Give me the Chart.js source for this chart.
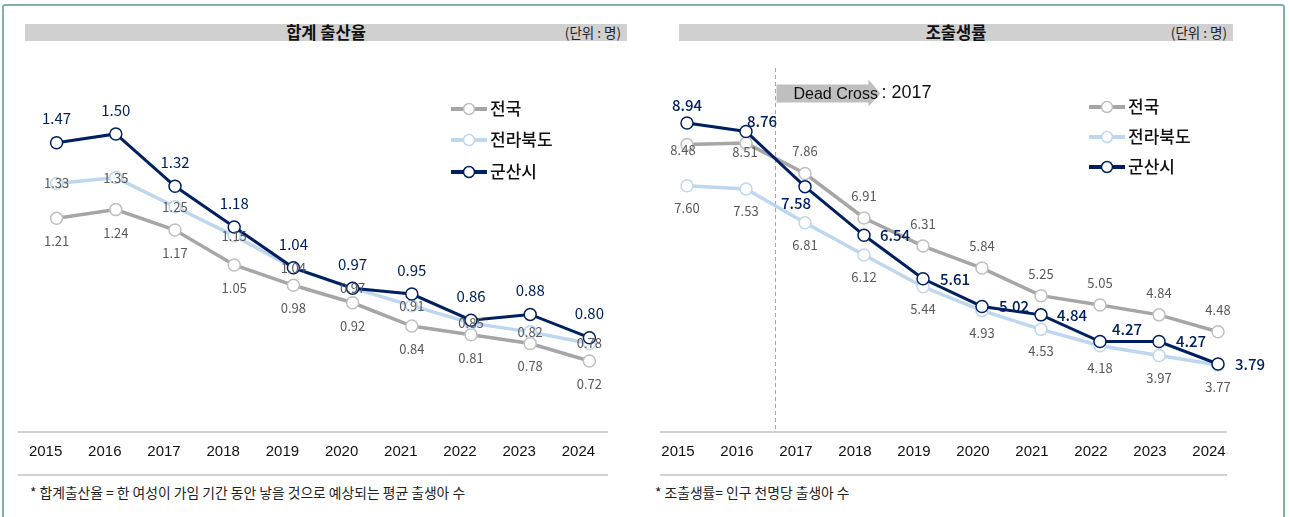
<!DOCTYPE html>
<html>
<head>
<meta charset="utf-8">
<script src="https://cdn.jsdelivr.net/npm/chart.js@4.4.1/dist/chart.umd.min.js"></script>
<style>
  body { margin: 0; background: #fff; width: 1290px; height: 517px; overflow: hidden; position: relative;
         font-family: "Noto Sans CJK KR", "Noto Sans", sans-serif; }
  .frame { position: absolute; left: 2px; top: 4px; width: 1279px; height: 560px; border: 2px solid #7fb0ac; border-radius: 3px; }
  .bar { position: absolute; top: 24px; height: 17px; background: #d0d0d0; }
  .bar .t { position: absolute; left: 0; right: 0; top: 0; text-align: center; font-weight: 700; font-size: 16.5px; line-height: 17px; color: #111; }
  .bar .u { position: absolute; right: 6px; top: 0; font-size: 13.5px; line-height: 17px; color: #222; }
  .note { position: absolute; top: 482px; font-size: 13.8px; color: #222; }
  canvas { position: absolute; }
</style>
</head>
<body>
<div class="frame"></div>

<div class="bar" style="left:25px;width:602px"><span class="t">합계 출산율</span><span class="u">(단위 : 명)</span></div>
<div class="bar" style="left:679px;width:554px"><span class="t">조출생률</span><span class="u">(단위 : 명)</span></div>

<canvas id="tfrChart" width="650" height="427" style="left:0;top:50px"></canvas>
<canvas id="cbrChart" width="640" height="427" style="left:650px;top:50px"></canvas>

<div class="note" style="left:30px">* 합계출산율 = 한 여성이 가임 기간 동안 낳을 것으로 예상되는 평균 출생아 수</div>
<div class="note" style="left:655px">* 조출생률= 인구 천명당 출생아 수</div>

<script>
const years = ["2015", "2016", "2017", "2018", "2019", "2020", "2021", "2022", "2023", "2024"];
const seriesNames = ["전국", "전라북도", "군산시"];

// 합계 출산율
const tfrNation  = [1.21, 1.24, 1.17, 1.05, 0.98, 0.92, 0.84, 0.81, 0.78, 0.72];
const tfrJeonbuk = [1.33, 1.35, 1.25, 1.15, 1.04, 0.97, 0.91, 0.85, 0.82, 0.78];
const tfrGunsan  = [1.47, 1.50, 1.32, 1.18, 1.04, 0.97, 0.95, 0.86, 0.88, 0.80];

// 조출생률
const cbrNation  = [8.48, 8.51, 7.86, 6.91, 6.31, 5.84, 5.25, 5.05, 4.84, 4.48];
const cbrJeonbuk = [7.60, 7.53, 6.81, 6.12, 5.44, 4.93, 4.53, 4.18, 3.97, 3.77];
const cbrGunsan  = [8.94, 8.76, 7.58, 6.54, 5.61, 5.02, 4.84, 4.27, 4.27, 3.79];

const NAVY = "#002060";
const SKY = "#bdd7ee";
const GRAY = "#a6a6a6";
const LABEL_GRAY = "#595959";
const NUM_FONT = '"Noto Sans CJK KR", "Noto Sans", sans-serif';

function series(label, data, color, pointColor, width, order, lbl) {
    return {
        label: label,
        data: data,
        borderColor: color,
        borderWidth: width,
        pointRadius: 6,
        pointHoverRadius: 6,
        pointBackgroundColor: "#fff",
        pointBorderColor: pointColor,
        pointBorderWidth: 1.5,
        tension: 0,
        order: order,
        lbl: lbl
    };
}

// value labels next to each point
const valueLabels = {
    id: "valueLabels",
    afterDatasetsDraw(chart) {
        const ctx = chart.ctx;
        chart.data.datasets.forEach((d, i) => {
            const l = d.lbl;
            const meta = chart.getDatasetMeta(i);
            ctx.save();
            ctx.font = l.font;
            ctx.fillStyle = l.color;
            ctx.textAlign = "center";
            ctx.textBaseline = "middle";
            meta.data.forEach((pt, j) => {
                const dx = Array.isArray(l.dx) ? l.dx[j] : l.dx;
                const dy = Array.isArray(l.dy) ? l.dy[j] : l.dy;
                ctx.fillText(d.data[j].toFixed(2), pt.x + dx, pt.y + dy);
            });
            ctx.restore();
        });
    }
};

// line + circle legend, in 전국 / 전라북도 / 군산시 order
const sideLegend = {
    id: "sideLegend",
    afterDraw(chart, args, opts) {
        const ctx = chart.ctx;
        seriesNames.forEach((name, k) => {
            const d = chart.data.datasets.find(s => s.label === name);
            const y = opts.ys[k];
            ctx.save();
            ctx.strokeStyle = d.borderColor;
            ctx.lineWidth = 4;
            ctx.beginPath();
            ctx.moveTo(opts.x1, y);
            ctx.lineTo(opts.x2, y);
            ctx.stroke();
            ctx.beginPath();
            ctx.arc((opts.x1 + opts.x2) / 2, y, 5.5, 0, Math.PI * 2);
            ctx.fillStyle = "#fff";
            ctx.fill();
            ctx.lineWidth = 1.5;
            ctx.strokeStyle = d.pointBorderColor;
            ctx.stroke();
            ctx.fillStyle = "#111";
            ctx.font = '500 17px "Noto Sans CJK KR", sans-serif';
            ctx.textBaseline = "middle";
            ctx.fillText(name, opts.x2 + 3, y);
            ctx.restore();
        });
    }
};

// rules above and below the year labels
const axisRules = {
    id: "axisRules",
    afterDraw(chart, args, opts) {
        const ctx = chart.ctx;
        const b = chart.chartArea.bottom;
        ctx.save();
        ctx.strokeStyle = "#a6a6a6";
        ctx.lineWidth = 1.2;
        [b, b + 43].forEach(y => {
            ctx.beginPath();
            ctx.moveTo(opts.x1, y);
            ctx.lineTo(opts.x2, y);
            ctx.stroke();
        });
        ctx.restore();
    }
};

// dashed marker between 2016 and 2017 with the arrow note
const deadCross = {
    id: "deadCross",
    beforeDatasetsDraw(chart) {
        const ctx = chart.ctx;
        const x = chart.scales.x.getPixelForValue(1.5);
        const { top, bottom } = chart.chartArea;
        ctx.save();
        ctx.strokeStyle = "#a6a6a6";
        ctx.lineWidth = 1;
        ctx.setLineDash([4, 3]);
        ctx.beginPath();
        ctx.moveTo(x, top + 8);
        ctx.lineTo(x, bottom);
        ctx.stroke();
        ctx.setLineDash([]);

        const ay = top + 33.5;
        ctx.fillStyle = "#bfbfbf";
        ctx.beginPath();
        ctx.moveTo(x + 1, ay - 9);
        ctx.lineTo(x + 93, ay - 9);
        ctx.lineTo(x + 93, ay - 14);
        ctx.lineTo(x + 105, ay);
        ctx.lineTo(x + 93, ay + 13);
        ctx.lineTo(x + 93, ay + 9);
        ctx.lineTo(x + 1, ay + 9);
        ctx.closePath();
        ctx.fill();

        ctx.fillStyle = "#111";
        ctx.textBaseline = "middle";
        ctx.font = '16px "Liberation Sans", Arial, sans-serif';
        ctx.fillText("Dead Cross", x + 18, ay + 1);
        ctx.font = '18px "Liberation Sans", Arial, sans-serif';
        ctx.fillText(": 2017", x + 106, ay);
        ctx.restore();
    }
};

function makeChart(id, datasets, yMin, yMax, pad, labelOffset, legendOpts, ruleOpts, extra) {
    return new Chart(document.getElementById(id), {
        type: "line",
        data: { labels: years, datasets: datasets },
        options: {
            responsive: false,
            animation: false,
            events: [],
            layout: { padding: pad },
            scales: {
                x: {
                    offset: true,
                    grid: { display: false, drawTicks: false },
                    border: { display: false },
                    ticks: {
                        color: "#111",
                        padding: 11,
                        labelOffset: labelOffset,
                        font: { family: '"Liberation Sans", Arial, sans-serif', size: 15 }
                    },
                    afterFit: s => { s.height = 45; }
                },
                y: { display: false, min: yMin, max: yMax }
            },
            plugins: {
                legend: { display: false },
                tooltip: { enabled: false },
                sideLegend: legendOpts,
                axisRules: ruleOpts
            }
        },
        plugins: [valueLabels, sideLegend, axisRules].concat(extra)
    });
}

const navyLeft = "15px " + NUM_FONT;
const navyRight = "500 15px " + NUM_FONT;
const grayFont = "13px " + NUM_FONT;

makeChart("tfrChart", [
    series("전국", tfrNation, GRAY, "#bfbfbf", 3.5, 3, { font: grayFont, color: LABEL_GRAY, dx: 0, dy: 23 }),
    series("전라북도", tfrJeonbuk, SKY, SKY, 3.5, 2, { font: grayFont, color: LABEL_GRAY, dx: 0, dy: 0 }),
    series("군산시", tfrGunsan, NAVY, NAVY, 3, 1, { font: navyLeft, color: NAVY, dx: 0, dy: -24 })
], 0.476, 1.754, { left: 27, right: 31, top: 10, bottom: 0 }, -11,
   { x1: 451, x2: 487, ys: [59, 90, 122] }, { x1: 18, x2: 608 }, []);

makeChart("cbrChart", [
    series("전국", cbrNation, GRAY, "#bfbfbf", 3.5, 3, {
        font: grayFont, color: LABEL_GRAY,
        dx: [-4, -1, 0, 0, 0, 0, 0, 0, 0, 0],
        dy: [6, 9, -22, -22, -22, -22, -22, -22, -22, -22]
    }),
    series("전라북도", cbrJeonbuk, SKY, SKY, 3.5, 2, { font: grayFont, color: LABEL_GRAY, dx: 0, dy: 22 }),
    series("군산시", cbrGunsan, NAVY, NAVY, 3, 1, {
        font: navyRight, color: NAVY,
        dx: [0, 16, -9, 31, 32, 32, 31, 27, 32, 32],
        dy: [-18, -10, 17, 0, 0, 0, 0, -12, 0, 0]
    })
], 2.337, 10.286, { left: 7.5, right: 42.5, top: 10, bottom: 0 }, -9,
   { x1: 439, x2: 475, ys: [57, 87, 117] }, { x1: 10, x2: 577 }, [deadCross]);
</script>
</body>
</html>
